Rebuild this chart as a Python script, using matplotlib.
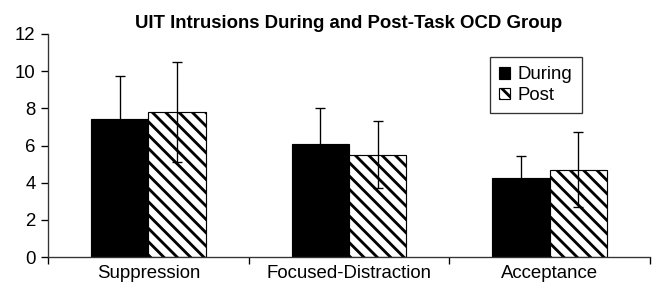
import matplotlib
matplotlib.use("Agg")
import matplotlib.pyplot as plt
import numpy as np

categories = ["Suppression", "Focused-Distraction", "Acceptance"]
during = [7.4, 6.1, 4.25]
during_sd = [2.35, 1.9, 1.2]
post = [7.8, 5.5, 4.7]
post_sd = [2.7, 1.8, 2.0]
series_names = ["During", "Post"]
title = "UIT Intrusions During and Post-Task OCD Group"

DPI = 120
plt.rcParams['font.family'] = ['Liberation Sans', 'DejaVu Sans']
plt.rcParams['hatch.linewidth'] = 1.7
fig = plt.figure(figsize=(653 / DPI, 286 / DPI), dpi=DPI)
ax = fig.add_axes([48 / 653, 1 - 257 / 286, 602 / 653, 223 / 286])

FS = 11.2
x = np.arange(len(categories)) + 0.5
w = 0.286
err_kw = dict(ecolor='black', elinewidth=0.8, capsize=3, capthick=0.8)
ax.bar(x - w / 2, during, w, yerr=during_sd, color='black', edgecolor='black',
       linewidth=0.7, label=series_names[0], error_kw=err_kw)
ax.bar(x + w / 2, post, w, yerr=post_sd, color='white', edgecolor='black',
       hatch='\\\\\\', linewidth=0.7, label=series_names[1], error_kw=err_kw)

ax.set_xlim(0, 3)
ax.set_ylim(0, 12)
ax.set_yticks(np.arange(0, 13, 2))
ax.set_xticks([0, 1, 2, 3])
ax.set_xticklabels([])
ax.set_xticks(x, minor=True)
ax.set_xticklabels(categories, minor=True)
ax.tick_params(axis='x', which='minor', length=0, pad=4.5, labelsize=FS)
ax.tick_params(axis='x', which='major', length=4, width=0.8, direction='out')
ax.tick_params(axis='y', length=4, width=0.8, labelsize=FS, pad=3.5)
for s in ['top', 'right']:
    ax.spines[s].set_visible(False)
for s in ['left', 'bottom']:
    ax.spines[s].set_linewidth(0.8)
    ax.spines[s].set_color('#333333')

ax.set_title(title, fontsize=11.2, fontweight='bold', pad=3.5)

leg = ax.legend(loc='upper left', bbox_to_anchor=(0.734, 0.897), fontsize=FS,
                frameon=True, fancybox=False, edgecolor='black',
                handlelength=0.6, handleheight=0.6, handletextpad=0.4,
                borderpad=0.5, labelspacing=0.2, borderaxespad=0)
leg.get_frame().set_linewidth(0.8)

fig.savefig("out.png", dpi=DPI)
